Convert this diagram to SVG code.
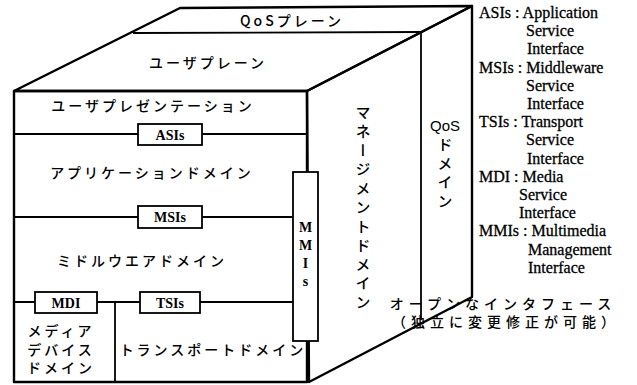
<svg xmlns="http://www.w3.org/2000/svg" width="637" height="385" viewBox="0 0 637 385">
<style>
.edge{fill:none;stroke:#000;stroke-width:2.4;stroke-linejoin:round}
.ln{fill:none;stroke:#000;stroke-width:1.8}
.box{fill:#fff;stroke:#000;stroke-width:1.8}
.jp{font-family:"Noto Sans CJK JP","Noto Sans",sans-serif;font-size:14px;font-weight:500;fill:#000;letter-spacing:3px;text-anchor:middle;dominant-baseline:central}
.jv{font-family:"Noto Sans CJK JP",sans-serif;font-size:15px;font-weight:500;fill:#000;writing-mode:vertical-rl;letter-spacing:4px}
.lb{font-family:"Liberation Serif",serif;font-size:14px;font-weight:bold;fill:#000;text-anchor:middle;dominant-baseline:central}
.lg{font-family:"Liberation Serif",serif;font-size:16px;fill:#000;stroke:#000;stroke-width:0.3}
</style>
<rect width="637" height="385" fill="#fff"/>
<g id="cube">
<polygon class="edge" points="14,91 180,8 472,6 307,91"/>
<polygon class="edge" points="307,91 472,6 472,297 309,382"/>
<rect class="edge" x="14" y="91" width="293" height="291"/>
</g>
<g id="connectors">
<line class="ln" x1="133" y1="33" x2="421" y2="32"/>
<line class="ln" x1="421" y1="32" x2="421" y2="320"/>
<line class="ln" x1="14" y1="134" x2="307" y2="134"/>
<line class="ln" x1="14" y1="217" x2="293" y2="217"/>
<line class="ln" x1="14" y1="302" x2="293" y2="302"/>
<line class="ln" x1="115" y1="302" x2="115" y2="382"/>
</g>
<g id="qos-plane"><text class="jp" x="292" y="20">QoSプレーン</text></g>
<g id="user-plane"><text class="jp" x="208" y="62">ユーザプレーン</text></g>
<g id="user-presentation"><text class="jp" x="153" y="105">ユーザプレゼンテーション</text></g>
<g id="asis"><rect class="box" x="138" y="124" width="64" height="21"/><text class="lb" x="170" y="135">ASIs</text></g>
<g id="application-domain"><text class="jp" x="152" y="172">アプリケーションドメイン</text></g>
<g id="msis"><rect class="box" x="138" y="206" width="64" height="22"/><text class="lb" x="170" y="217">MSIs</text></g>
<g id="middleware-domain"><text class="jp" x="142" y="260">ミドルウエアドメイン</text></g>
<g id="mdi"><rect class="box" x="35" y="292" width="62" height="21"/><text class="lb" x="66" y="303">MDI</text></g>
<g id="tsis"><rect class="box" x="140" y="292" width="60" height="21"/><text class="lb" x="170" y="303">TSIs</text></g>
<g id="media-device-domain">
<text class="jp" x="61" y="330">メディア</text>
<text class="jp" x="61" y="349">デバイス</text>
<text class="jp" x="61" y="367">ドメイン</text>
</g>
<g id="transport-domain"><text class="jp" x="213" y="349">トランスポートドメイン</text></g>
<g id="mmis"><rect class="box" x="293" y="172" width="25" height="169"/>
<text class="lb" x="305.5" y="227">M</text><text class="lb" x="305.5" y="245">M</text><text class="lb" x="305.5" y="263">I</text><text class="lb" x="305.5" y="281">s</text></g>
<g id="management-domain"><text class="jv" x="363" y="105">マネージメントドメイン</text></g>
<g id="qos-domain"><text class="lb" x="445" y="125" style="font-family:'Liberation Sans',sans-serif;font-weight:normal;font-size:15px">QoS</text><text class="jv" x="445" y="137">ドメイン</text></g>
<g id="legend" class="lg">
<text x="479" y="18">ASIs : Application</text>
<text x="526" y="36.2">Service</text>
<text x="527" y="54.4">Interface</text>
<text x="479" y="72.6">MSIs : Middleware</text>
<text x="526" y="90.8">Service</text>
<text x="527" y="109">Interface</text>
<text x="479" y="127.2">TSIs : Transport</text>
<text x="526" y="145.4">Service</text>
<text x="527" y="163.6">Interface</text>
<text x="479" y="181.8">MDI : Media</text>
<text x="519" y="200">Service</text>
<text x="519" y="218.2">Interface</text>
<text x="479" y="236.4">MMIs : Multimedia</text>
<text x="528" y="254.6">Management</text>
<text x="528" y="272.8">Interface</text>
</g>
<g id="note">
<text class="jp" x="503" y="303" style="letter-spacing:5px">オープンなインタフェース</text>
<text class="jp" x="506" y="321" style="letter-spacing:5px">（独立に変更修正が可能）</text>
</g>
</svg>
